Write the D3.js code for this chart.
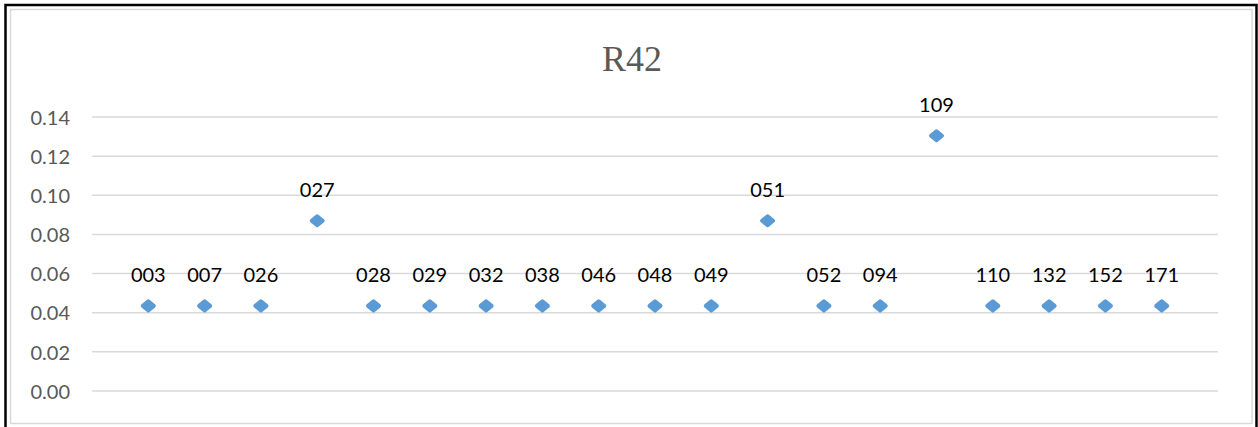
<!DOCTYPE html>
<html>
<head>
<meta charset="utf-8">
<script src="https://cdn.jsdelivr.net/npm/d3@7/dist/d3.min.js"></script>
<style>
  html, body { margin: 0; padding: 0; background: #fff; }
  svg { display: block; }
</style>
</head>
<body>
<svg id="chart" width="1258" height="427"></svg>
<script>
// ---- data ----
const title = "R42";
const labels = ["003","007","026","027","028","029","032","038","046","048","049","051","052","094","109","110","132","152","171"];
const xValues = [1,2,3,4,5,6,7,8,9,10,11,12,13,14,15,16,17,18,19];
const yValues = [0.0435,0.0435,0.0435,0.087,0.0435,0.0435,0.0435,0.0435,0.0435,0.0435,0.0435,0.087,0.0435,0.0435,0.1304,0.0435,0.0435,0.0435,0.0435];
const yTicks = [0, 0.02, 0.04, 0.06, 0.08, 0.10, 0.12, 0.14];
const xDomain = [0, 20];
const yDomain = [0, 0.14];

// ---- drawing ----
const svg = d3.select("#chart");

// outer black frame and inner chart border
svg.append("rect").attr("x", 5.5).attr("y", 5).attr("width", 1251).attr("height", 440)
  .attr("fill", "#fff").attr("stroke", "#000").attr("stroke-width", 2.5);
svg.append("rect").attr("x", 10.5).attr("y", 9.5).attr("width", 1241.5).attr("height", 414)
  .attr("fill", "#fff").attr("stroke", "#d9d9d9").attr("stroke-width", 1.5);

const plot = { left: 92, right: 1218, top: 117, bottom: 391 };
const x = d3.scaleLinear().domain(xDomain).range([plot.left, plot.right]);
const y = d3.scaleLinear().domain(yDomain).range([plot.bottom, plot.top]);

// gridlines
svg.append("g").selectAll("line").data(yTicks).join("line")
  .attr("x1", plot.left).attr("x2", plot.right)
  .attr("y1", d => y(d)).attr("y2", d => y(d))
  .attr("stroke", "#d9d9d9").attr("stroke-width", 1.5);

// y axis labels
const yAxis = d3.axisLeft(y).tickValues(yTicks).tickFormat(d3.format(".2f")).tickSize(0).tickPadding(0);
const gy = svg.append("g").attr("transform", `translate(70,0)`).call(yAxis);
gy.select(".domain").remove();
gy.selectAll("text")
  .attr("font-family", "Lato, 'Open Sans', sans-serif")
  .attr("font-size", 20)
  .attr("fill", "#595959")
  .attr("dy", "0.36em");

// title
svg.append("text").attr("x", 632).attr("y", 71)
  .attr("text-anchor", "middle")
  .attr("font-family", "'Liberation Serif', serif")
  .attr("font-size", 36)
  .attr("fill", "#595959")
  .text(title);

// markers (rounded diamond shape)
const pts = labels.map((l, i) => ({ label: l, x: xValues[i], y: yValues[i] }));
const markerShape = d3.line()([[0, -4.5], [5.5, 0], [0, 4.5], [-5.5, 0]]) + "Z";
svg.append("g").selectAll("path").data(pts).join("path")
  .attr("transform", d => `translate(${x(d.x)},${y(d.y)})`)
  .attr("d", markerShape)
  .attr("fill", "#5b9bd5")
  .attr("stroke", "#5b9bd5")
  .attr("stroke-width", 4)
  .attr("stroke-linejoin", "round");

// data labels
svg.append("g").selectAll("text").data(pts).join("text")
  .attr("x", d => x(d.x))
  .attr("y", d => y(d.y) - 24)
  .attr("text-anchor", "middle")
  .attr("font-family", "Lato, 'Open Sans', sans-serif")
  .attr("font-size", 20)
  .attr("fill", "#000")
  .text(d => d.label);
</script>
</body>
</html>
